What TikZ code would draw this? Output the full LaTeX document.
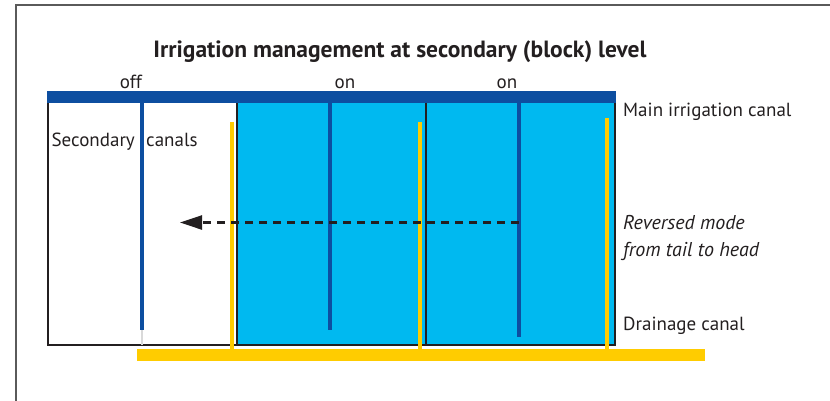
\documentclass[tikz,border=0pt]{standalone}
\usepackage{fontspec}
\setmainfont{PT Sans}
\usetikzlibrary{arrows.meta}
\definecolor{canalblue}{HTML}{0D4EA0}
\definecolor{fieldcyan}{HTML}{00B9F0}
\definecolor{drainyellow}{HTML}{FFCC00}
\definecolor{outline}{HTML}{231F20}
\definecolor{framegray}{HTML}{5A5A5A}
\tikzset{
  lbl/.style={font=\fontsize{19}{22}\selectfont, text=outline, inner sep=0pt},
  ilbl/.style={lbl, font=\fontsize{20}{23}\selectfont\itshape},
  seccanal/.style={draw=canalblue, line width=4pt},
  drain/.style={draw=drainyellow, line width=4pt},
  boxline/.style={draw=outline, line width=2pt},
  revarrow/.style={draw=outline, line width=2.4pt, dash pattern=on 8pt off 6pt, -{Triangle[length=22pt,width=14pt]}}
}
\begin{document}
\begin{tikzpicture}[x=1pt,y=-1pt]
\useasboundingbox (0,0) rectangle (830,400);
% frame
\draw[framegray, line width=2pt] (16,420) -- (16,4.5) -- (850,4.5);
% title
\node[font=\fontsize{23.5}{27}\selectfont\bfseries, text=outline, inner sep=0pt, anchor=base] (title) at (400,57) {Irrigation management at secondary (block) level};
% fields
\fill[fieldcyan] (237,102) rectangle (615,345);
\draw[boxline] (48,102) -- (48,345) -- (615,345) -- (615,102);
\draw[boxline] (237,102) -- (237,345);
\draw[boxline] (426,102) -- (426,345);
% main canal
\fill[canalblue] (47,91) rectangle (616,102.5);
% secondary canals
\draw[black!15, line width=2pt] (141.5,330) -- (141.5,345);
\draw[seccanal] (141.5,102) coordinate (s1top) -- (141.5,330) coordinate (s1bot);
\draw[seccanal] (330,102) -- (330,330);
\draw[seccanal] (518.5,102) -- (518.5,337);
% drains
\draw[drain] (231.5,122) -- (231.5,350);
\draw[drain] (420,122) -- (420,350);
\draw[drain] (607,118) -- (607,350);
\fill[drainyellow] (137,349) rectangle (705,361);
% reversed flow arrow
\coordinate (revstart) at (518.5,222.5);
\coordinate (revend) at (180,222.5);
\draw[revarrow] (revstart) -- (revend);
% labels
\node[lbl, anchor=base] (off) at (131,88) {off};
\node[lbl, anchor=base] (on1) at (345,88) {on};
\node[lbl, anchor=base] (on2) at (507,88) {on};
\node[lbl, anchor=base west] (main) at (623,116) {Main irrigation canal};
\node[lbl, anchor=base east] (sec1) at (135,146) {Secondary};
\node[lbl, anchor=base west] (sec2) at (146,146) {canals};
\node[ilbl, anchor=base west] (rev1) at (623,229) {Reversed mode};
\node[ilbl, anchor=base west] (rev2) at (623,256) {from tail to head};
\node[lbl, anchor=base west] (drainlbl) at (623,330) {Drainage canal};
\end{tikzpicture}
\end{document}
